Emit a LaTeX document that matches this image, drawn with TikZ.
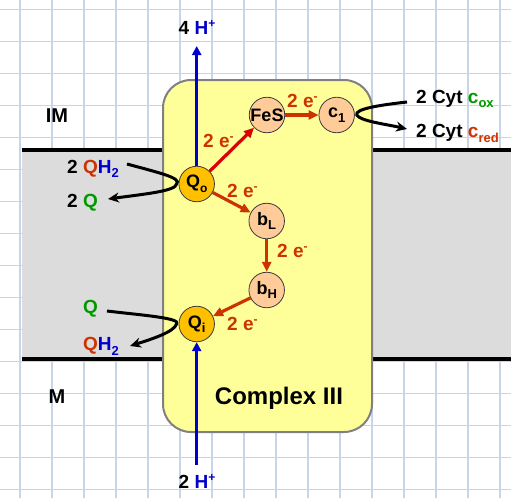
\documentclass[tikz,border=0pt]{standalone}
\usepackage{fontspec}
\setmainfont{Liberation Sans}
\usetikzlibrary{arrows.meta}
\definecolor{gridc}{RGB}{200,212,232}
\definecolor{bandc}{RGB}{220,220,220}
\definecolor{boxc}{RGB}{255,255,153}
\definecolor{boxb}{RGB}{128,128,128}
\definecolor{peach}{RGB}{255,204,153}
\definecolor{qgold}{RGB}{255,192,0}
\definecolor{eorange}{RGB}{204,51,0}
\definecolor{ered}{RGB}{221,0,0}
\definecolor{hblue}{RGB}{0,0,204}
\definecolor{qgreen}{RGB}{0,153,0}
\definecolor{sitec}{RGB}{60,60,60}
\newcommand\subx[2][13]{\raisebox{-4.5pt}{\fontsize{#1}{#1}\selectfont #2}}
\newcommand\supx[2][12]{\raisebox{6.5pt}{\fontsize{#1}{#1}\selectfont #2}}
\begin{document}
\begin{tikzpicture}[x=1pt,y=-1pt,
  lbl/.style={font=\fontsize{19}{19}\selectfont\bfseries, inner sep=0pt},
  elbl/.style={lbl, text=eorange},
  site/.style={circle, draw=sitec, line width=0.8pt, minimum size=35.5pt, inner sep=0pt,
    font=\fontsize{18}{18}\selectfont\bfseries},
  earrow/.style={eorange, line width=3.2pt, -{Triangle[length=10pt,width=9pt]}},
  harrow/.style={hblue, line width=3pt, -{Triangle[length=9pt,width=9pt]}},
  curv/.style={black, line width=3pt, -{Stealth[length=11pt,width=10pt]}},
  gridline/.style={gridc, line width=1.3pt}]
\useasboundingbox (0,0) rectangle (520,498);
% grid
\foreach \i in {0,...,15}{
  \draw[gridline] ({20+32*\i},0) -- ({20+32*\i},498);
  \draw[gridline] (0,{9.5+32*\i}) -- (511,{9.5+32*\i});
}
% membrane band
\fill[bandc] (21.5,150) rectangle (511,359);
\draw[line width=3.5pt] (21.5,150) -- (511,150);
\draw[line width=3.5pt] (21.5,359) -- (511,359);
% complex box
\node[draw=boxb, fill=boxc, line width=2pt, rounded corners=28pt,
  minimum width=209pt, minimum height=352pt, inner sep=0pt] (cx) at (267.5,256) {};
\node[lbl, font=\fontsize{24}{24}\selectfont\bfseries, anchor=base] (cxt) at (279,404) {Complex III};
% region labels
\node[lbl, font=\fontsize{20}{20}\selectfont\bfseries, anchor=base] (im) at (57,122.3) {IM};
\node[lbl, font=\fontsize{20}{20}\selectfont\bfseries, anchor=base] (mm) at (57,403.3) {M};
% sites
\node[site, fill=qgold] (qo) at (196.7,184) {Q\subx[12]{o}};
\node[site, fill=peach] (fes) at (267,115) {FeS};
\node[site, fill=peach] (c1) at (336.7,115) {c\subx{1}};
\node[site, fill=peach] (bl) at (266.7,221) {b\subx{L}};
\node[site, fill=peach] (bh) at (266.7,290) {b\subx{H}};
\node[site, fill=qgold] (qi) at (196.7,324) {Q\subx[13]{i}};
% protons
\node[lbl, anchor=base] (h4) at (197,34) {4 \textcolor{hblue}{H\supx{+}}};
\node[lbl, anchor=base] (h2) at (197,488.3) {2 \textcolor{hblue}{H\supx{+}}};
\coordinate (htop) at (196.7,46);
\coordinate (hbot) at (196.7,465);
\draw[harrow] (qo.north) -- (htop);
\draw[harrow] (hbot) -- (qi.south);
% electron transfers
\draw[earrow, ered] (qo) -- (fes);
\draw[earrow] (qo) -- (bl);
\draw[earrow] (fes) -- (c1);
\draw[earrow] (bl) -- (bh);
\draw[earrow] (bh) -- (qi);
\node[elbl, anchor=base west] (e1) at (203,147) {2 e\supx{-}};
\node[elbl, anchor=base west] (e2) at (227,197) {2 e\supx{-}};
\node[elbl, anchor=base west] (e3) at (287,107) {2 e\supx{-}};
\node[elbl, anchor=base west] (e4) at (277,257) {2 e\supx{-}};
\node[elbl, anchor=base west] (e5) at (227,330) {2 e\supx{-}};
% quinone labels
\node[lbl, anchor=base west] (tqh2) at (67,173) {2 \textcolor{eorange}{Q}\textcolor{hblue}{H\subx{2}}};
\node[lbl, anchor=base west] (tq2) at (67,207.5) {2 \textcolor{qgreen}{Q}};
\node[lbl, anchor=base west, text=qgreen] (tq) at (83,313) {Q};
\node[lbl, anchor=base west] (tqh2b) at (83,350.5) {\textcolor{eorange}{Q}\textcolor{hblue}{H\subx{2}}};
% cytochrome labels
\node[lbl, anchor=base west] (cox) at (416,103) {2 Cyt \textcolor{qgreen}{c\subx{ox}}};
\node[lbl, anchor=base west] (cred) at (416,137.5) {2 Cyt \textcolor{eorange}{c\subx{red}}};
% curve end points
\coordinate (qos) at (127,164);
\coordinate (qoe) at (108,199);
\coordinate (qis) at (107,311);
\coordinate (qie) at (130,346);
\coordinate (c1s) at (407,102);
\coordinate (c1e) at (407,129);
\draw[curv] (qos) .. controls (160,173) and (182,178) .. ([xshift=-2pt]qo.west)
  .. controls (176,191) and (145,194) .. (qoe);
\draw[curv] (qis) .. controls (140,315) and (182,318) .. ([xshift=-2pt]qi.west)
  .. controls (174,332) and (152,339) .. (qie);
\draw[curv] (c1s) .. controls (380,105) and (354,109) .. ([xshift=2pt]c1.east)
  .. controls (360,121) and (385,124) .. (c1e);
\end{tikzpicture}
\end{document}
